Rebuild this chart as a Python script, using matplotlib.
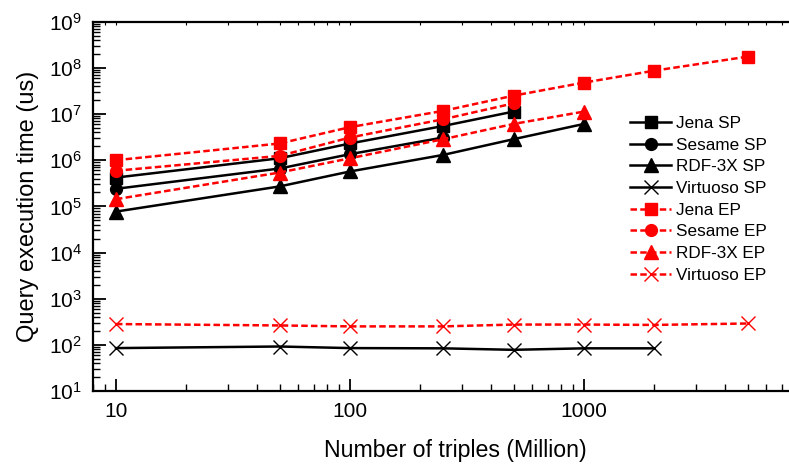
import matplotlib
matplotlib.use("Agg")
import matplotlib.pyplot as plt
from matplotlib.ticker import LogLocator, NullFormatter, LogFormatterMathtext, FixedLocator, FixedFormatter

plt.rcParams['font.family'] = ['Liberation Sans', 'DejaVu Sans']
plt.rcParams['mathtext.default'] = 'regular'

# ---- data ----
x_all = [10, 50, 100, 250, 500, 1000, 2000, 5000]

jena_sp = [4.2e5, 1.1e6, 2.3e6, 5.5e6, 1.13e7]
sesame_sp = [2.4e5, 6.6e5, 1.35e6, 3.1e6]
rdf_sp = [7.7e4, 2.7e5, 5.7e5, 1.3e6, 2.85e6, 6.1e6]
virt_sp = [85, 92, 85, 84, 78, 84, 84]

jena_ep = [1.0e6, 2.3e6, 5.2e6, 1.17e7, 2.5e7, 4.8e7, 8.7e7, 1.75e8]
sesame_ep = [5.9e5, 1.24e6, 3.1e6, 7.7e6, 1.7e7]
rdf_ep = [1.43e5, 5.4e5, 1.1e6, 2.85e6, 6.1e6, 1.13e7]
virt_ep = [282, 263, 251, 251, 275, 275, 270, 290]

x_ticks = [10, 100, 1000]
x_tick_labels = ["10", "100", "1000"]

fig = plt.figure(figsize=(7.89, 4.68), dpi=100)
ax = fig.add_axes([93.3/789, 1 - 391/468, (818 - 93.3)/789, (391 - 21.7)/468])

lw = 1.8
dash = (0, (2.6, 1.3))
ms = 8.5

series = [
    ("Jena SP", jena_sp, 'k', '-', 's'),
    ("Sesame SP", sesame_sp, 'k', '-', 'o'),
    ("RDF-3X SP", rdf_sp, 'k', '-', '^'),
    ("Virtuoso SP", virt_sp, 'k', '-', 'x'),
    ("Jena EP", jena_ep, 'red', dash, 's'),
    ("Sesame EP", sesame_ep, 'red', dash, 'o'),
    ("RDF-3X EP", rdf_ep, 'red', dash, '^'),
    ("Virtuoso EP", virt_ep, 'red', dash, 'x'),
]

for label, vals, c, ls, m in series:
    xs = x_all[:len(vals)]
    if m == 'x':
        ax.plot(xs, vals, color=c, linestyle=ls, lw=lw, marker=m, ms=10,
                mew=1.0, label=label)
    else:
        size = ms + 1 if m == '^' else ms
        ax.plot(xs, vals, color=c, linestyle=ls, lw=lw, marker=m, ms=size,
                mec=c, mfc=c, label=label)

ax.set_xscale('log')
ax.set_yscale('log')
ax.set_xlim(8, 10000)
ax.set_ylim(10, 1e9)

ax.xaxis.set_major_locator(FixedLocator(x_ticks))
ax.xaxis.set_major_formatter(FixedFormatter(x_tick_labels))
ax.xaxis.set_minor_locator(LogLocator(base=10, subs=range(2, 10), numticks=20))
ax.xaxis.set_minor_formatter(NullFormatter())

ax.yaxis.set_major_locator(LogLocator(base=10, numticks=20))
ax.yaxis.set_major_formatter(LogFormatterMathtext())
ax.yaxis.set_minor_locator(LogLocator(base=10, subs=range(2, 10), numticks=20))
ax.yaxis.set_minor_formatter(NullFormatter())

ax.tick_params(axis='both', which='major', direction='in', length=9, width=1.3,
               labelsize=15, pad=8, right=False, top=False)
ax.tick_params(axis='both', which='minor', direction='in', length=5, width=1.0,
               right=False, top=False)

for s in ['left', 'bottom', 'top']:
    ax.spines[s].set_linewidth(1.6)
ax.spines['right'].set_visible(False)

# tiny ticks on top spine
axt = ax.twiny()
axt.set_xscale('log')
axt.set_xlim(ax.get_xlim())
axt.xaxis.set_major_locator(FixedLocator(x_ticks))
axt.xaxis.set_minor_locator(LogLocator(base=10, subs=range(2, 10), numticks=20))
axt.xaxis.set_major_formatter(NullFormatter())
axt.xaxis.set_minor_formatter(NullFormatter())
axt.tick_params(axis='x', which='both', direction='in', length=2, width=0.8)
for s in axt.spines.values():
    s.set_visible(False)

ax.set_xlabel("Number of triples (Million)", fontsize=16.7, labelpad=13)
ax.set_ylabel("Query execution time (us)", fontsize=17, labelpad=7)

leg = ax.legend(loc='upper left', bbox_to_anchor=(630/789, 1 - 116/468),
                bbox_transform=fig.transFigure, frameon=False, fontsize=12.3,
                handlelength=2.4, handletextpad=0.3, labelspacing=0.39,
                borderpad=0, borderaxespad=0, numpoints=1)

fig.savefig("out.png", dpi=100)
